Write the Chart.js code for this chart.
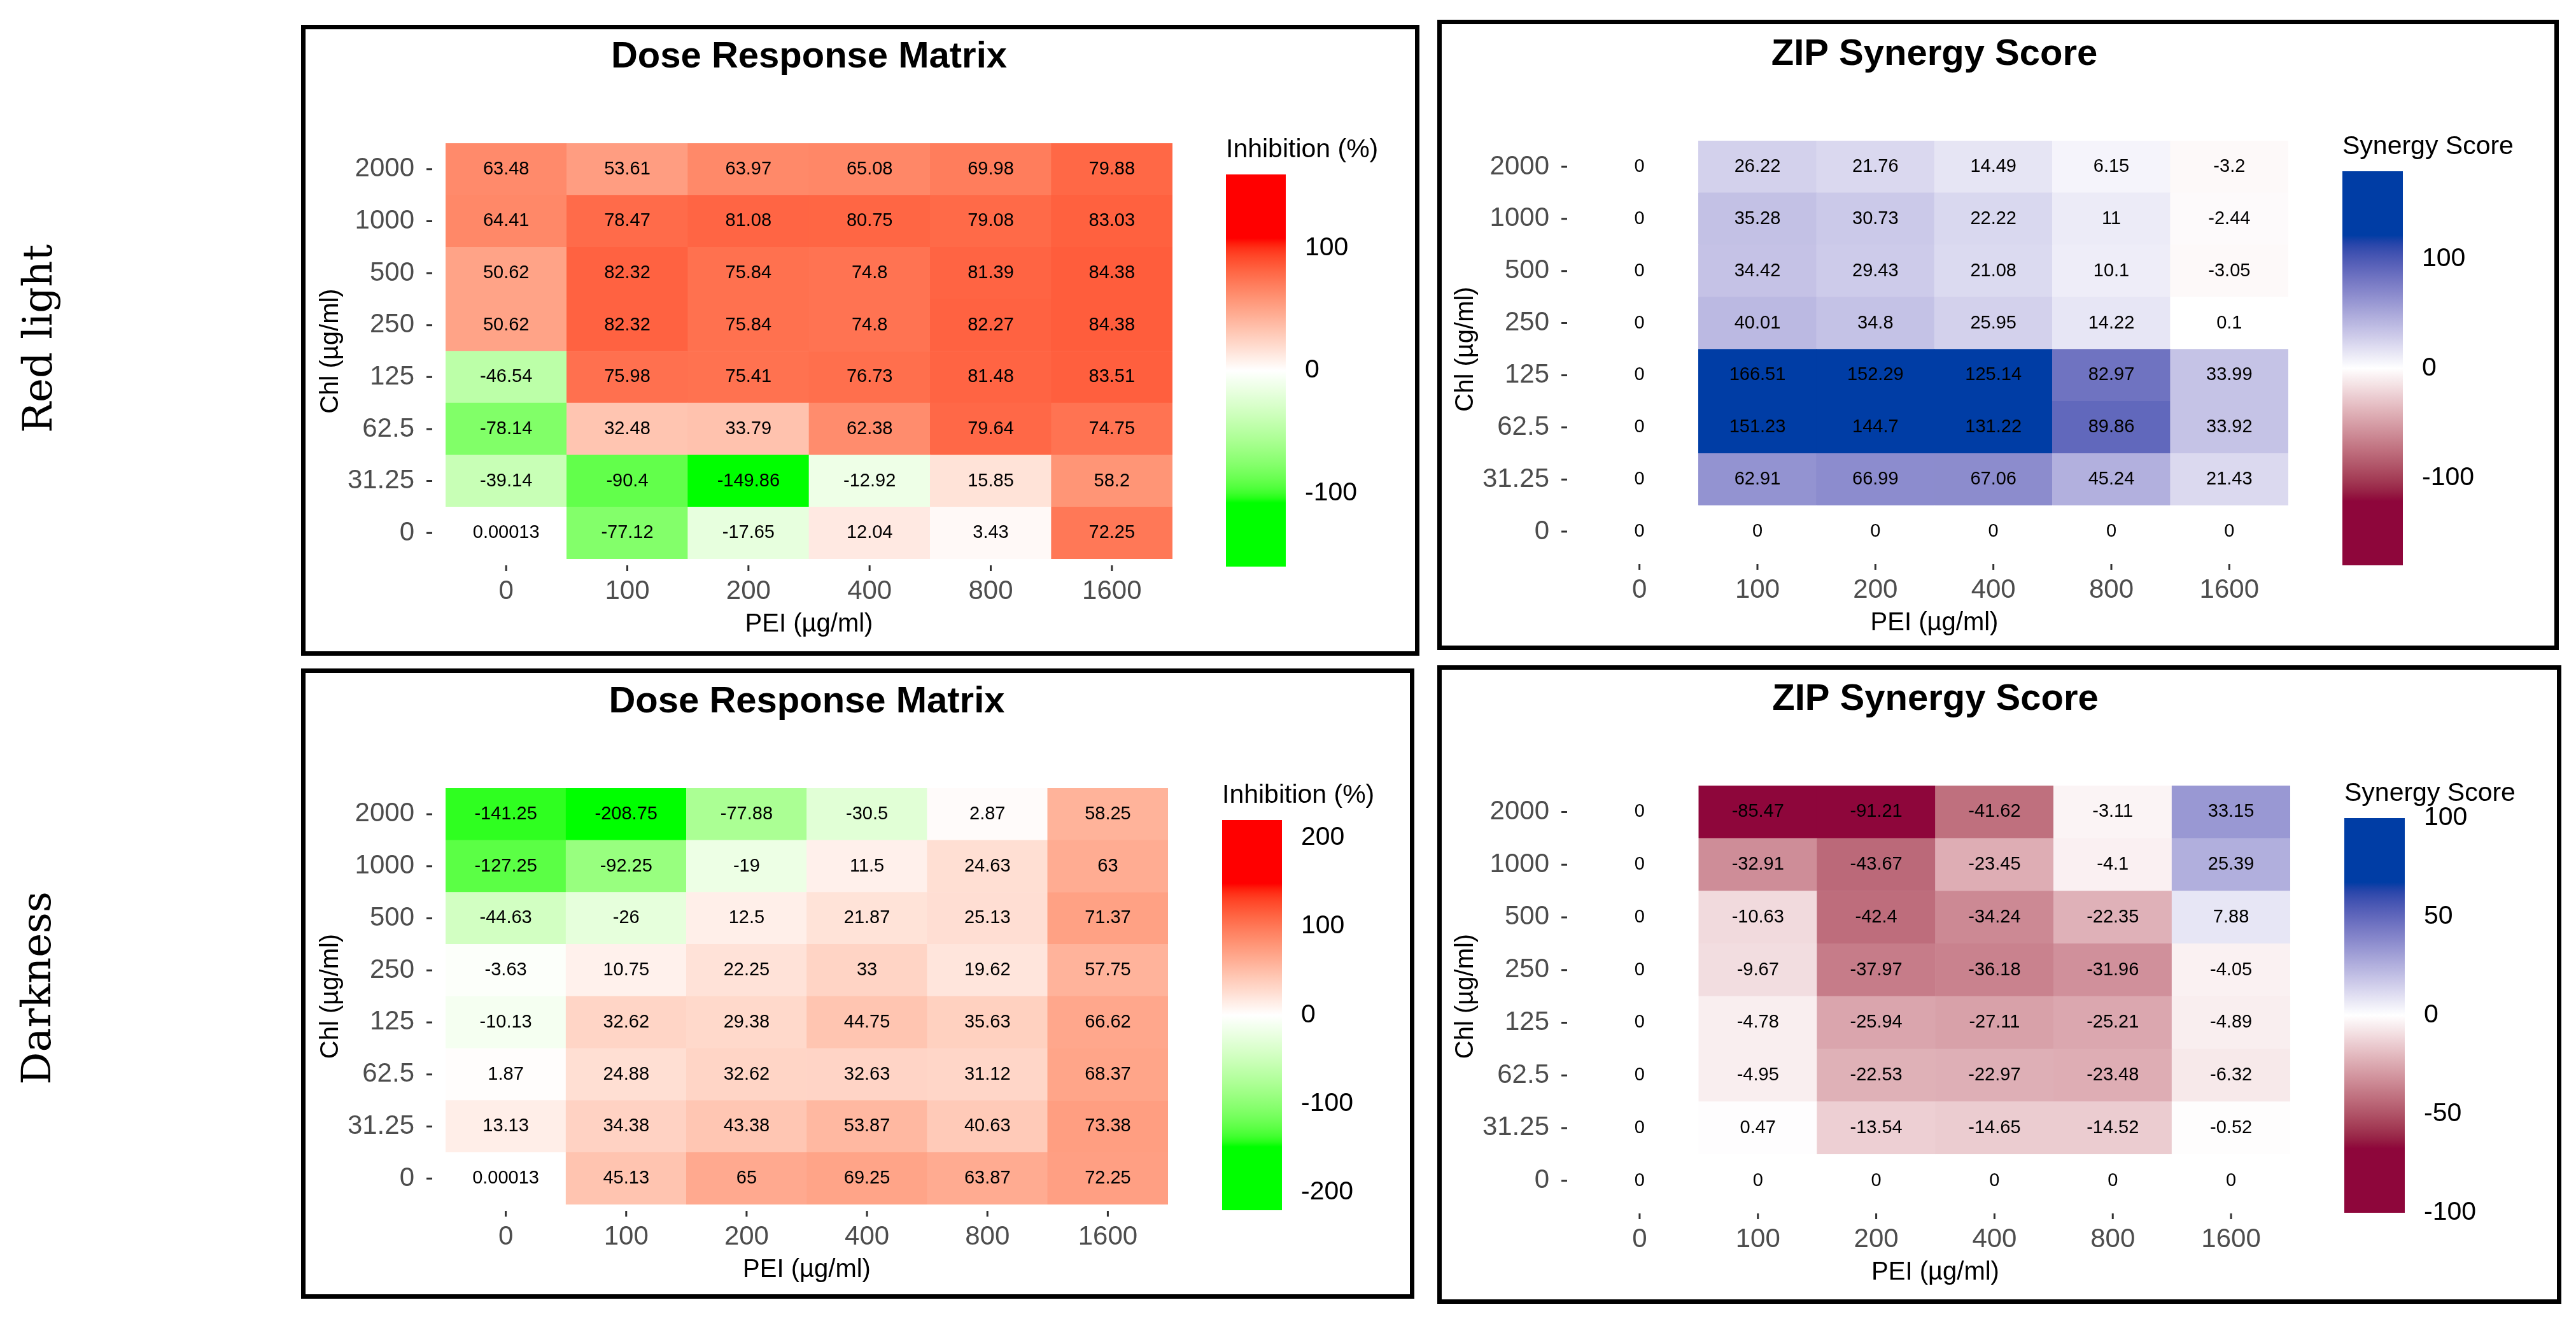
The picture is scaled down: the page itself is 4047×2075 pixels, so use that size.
<!DOCTYPE html>
<html>
<head>
<meta charset="utf-8">
<title>Dose response and ZIP synergy</title>
<script src="https://cdn.jsdelivr.net/npm/chart.js@4.4.1/dist/chart.umd.min.js"></script>
<style>
  body { margin: 0; width: 4047px; height: 2075px; background: #fff; position: relative; overflow: hidden; }
  .box { position: absolute; border: 7px solid #000; box-sizing: border-box; }
  .side { position: absolute; transform: translate(-50%, -50%) rotate(-90deg); font: 64px 'DejaVu Serif', serif; white-space: nowrap; color: #000; }
  canvas { position: absolute; }
</style>
</head>
<body>
<div class="side" style="left:59px; top:532px">Red light</div>
<div class="side" style="left:57px; top:1552px">Darkness</div>
<script>
// Categories (rows listed top to bottom, as in the picture)
const chlLevels = ['2000', '1000', '500', '250', '125', '62.5', '31.25', '0'];
const peiLevels = ['0', '100', '200', '400', '800', '1600'];

// Red light
const redInhibition = [
    [63.48, 53.61, 63.97, 65.08, 69.98, 79.88],
    [64.41, 78.47, 81.08, 80.75, 79.08, 83.03],
    [50.62, 82.32, 75.84, 74.8, 81.39, 84.38],
    [50.62, 82.32, 75.84, 74.8, 82.27, 84.38],
    [-46.54, 75.98, 75.41, 76.73, 81.48, 83.51],
    [-78.14, 32.48, 33.79, 62.38, 79.64, 74.75],
    [-39.14, -90.4, -149.86, -12.92, 15.85, 58.2],
    [0.00013, -77.12, -17.65, 12.04, 3.43, 72.25]
];
const redSynergy = [
    [0, 26.22, 21.76, 14.49, 6.15, -3.2],
    [0, 35.28, 30.73, 22.22, 11, -2.44],
    [0, 34.42, 29.43, 21.08, 10.1, -3.05],
    [0, 40.01, 34.8, 25.95, 14.22, 0.1],
    [0, 166.51, 152.29, 125.14, 82.97, 33.99],
    [0, 151.23, 144.7, 131.22, 89.86, 33.92],
    [0, 62.91, 66.99, 67.06, 45.24, 21.43],
    [0, 0, 0, 0, 0, 0]
];

// Darkness
const darkInhibition = [
    [-141.25, -208.75, -77.88, -30.5, 2.87, 58.25],
    [-127.25, -92.25, -19, 11.5, 24.63, 63],
    [-44.63, -26, 12.5, 21.87, 25.13, 71.37],
    [-3.63, 10.75, 22.25, 33, 19.62, 57.75],
    [-10.13, 32.62, 29.38, 44.75, 35.63, 66.62],
    [1.87, 24.88, 32.62, 32.63, 31.12, 68.37],
    [13.13, 34.38, 43.38, 53.87, 40.63, 73.38],
    [0.00013, 45.13, 65, 69.25, 63.87, 72.25]
];
const darkSynergy = [
    [0, -85.47, -91.21, -41.62, -3.11, 33.15],
    [0, -32.91, -43.67, -23.45, -4.1, 25.39],
    [0, -10.63, -42.4, -34.24, -22.35, 7.88],
    [0, -9.67, -37.97, -36.18, -31.96, -4.05],
    [0, -4.78, -25.94, -27.11, -25.21, -4.89],
    [0, -4.95, -22.53, -22.97, -23.48, -6.32],
    [0, 0.47, -13.54, -14.65, -14.52, -0.52],
    [0, 0, 0, 0, 0, 0]
];

// Colour bar tick labels
const redInhibitionTicks = [-100, 0, 100];
const redSynergyTicks = [-100, 0, 100];
const darkInhibitionTicks = [-200, -100, 0, 100, 200];
const darkSynergyTicks = [-100, -50, 0, 50, 100];

// Colour scales (white in the middle, interpolated in Lab like ggplot)
const doseColors = { low: '#00FF00', high: '#FF0000' };
const synergyColors = { low: '#8E063B', high: '#003DA5' };

// Layout, page pixels: [left, top, right, bottom]
const panels = [
    { box: [473, 39, 2230, 1030], grid: [700, 225, 1842, 878], bar: [1926, 274, 2020, 890],
      title: 'Dose Response Matrix', legendTitle: 'Inhibition (%)',
      values: redInhibition, ticks: redInhibitionTicks, limit: 160, colors: doseColors },
    { box: [2258, 31, 4020, 1021], grid: [2483, 221, 3595, 876], bar: [3680, 269, 3775, 888],
      title: 'ZIP Synergy Score', legendTitle: 'Synergy Score',
      values: redSynergy, ticks: redSynergyTicks, limit: 180, colors: synergyColors },
    { box: [473, 1050, 2222, 2040], grid: [700, 1238, 1835, 1892], bar: [1920, 1288, 2014, 1901],
      title: 'Dose Response Matrix', legendTitle: 'Inhibition (%)',
      values: darkInhibition, ticks: darkInhibitionTicks, limit: 220, colors: doseColors },
    { box: [2258, 1045, 4024, 2048], grid: [2483, 1234, 3598, 1896], bar: [3683, 1285, 3778, 1905],
      title: 'ZIP Synergy Score', legendTitle: 'Synergy Score',
      values: darkSynergy, ticks: darkSynergyTicks, limit: 100, colors: synergyColors }
];

Chart.defaults.font.family = "'Liberation Sans', Arial, sans-serif";
Chart.defaults.color = '#000';

// Lab colour helpers
function toLin(c) { c /= 255; return c <= 0.04045 ? c / 12.92 : Math.pow((c + 0.055) / 1.055, 2.4); }
function fromLin(c) {
    const v = c <= 0.0031308 ? 12.92 * c : 1.055 * Math.pow(c, 1 / 2.4) - 0.055;
    return Math.round(Math.min(1, Math.max(0, v)) * 255);
}
function hexToLab(hex) {
    const n = parseInt(hex.slice(1), 16);
    const r = toLin(n >> 16), g = toLin((n >> 8) & 255), b = toLin(n & 255);
    const f = t => t > 0.008856 ? Math.cbrt(t) : 7.787 * t + 16 / 116;
    const fx = f((0.4124 * r + 0.3576 * g + 0.1805 * b) / 0.95047);
    const fy = f(0.2126 * r + 0.7152 * g + 0.0722 * b);
    const fz = f((0.0193 * r + 0.1192 * g + 0.9505 * b) / 1.08883);
    return [116 * fy - 16, 500 * (fx - fy), 200 * (fy - fz)];
}
function labToCss([L, a, bb]) {
    const fy = (L + 16) / 116, fx = fy + a / 500, fz = fy - bb / 200;
    const inv = t => t > 0.206893 ? t * t * t : (t - 16 / 116) / 7.787;
    const x = inv(fx) * 0.95047, y = inv(fy), z = inv(fz) * 1.08883;
    const r = 3.2406 * x - 1.5372 * y - 0.4986 * z;
    const g = -0.9689 * x + 1.8758 * y + 0.0415 * z;
    const b = 0.0557 * x - 0.2040 * y + 1.0570 * z;
    return `rgb(${fromLin(r)}, ${fromLin(g)}, ${fromLin(b)})`;
}
const WHITE = hexToLab('#FFFFFF');
function colorFor(v, colors, sat) {
    const t = Math.max(-1, Math.min(1, v / sat));
    const end = hexToLab(t >= 0 ? colors.high : colors.low);
    const k = Math.abs(t);
    return labToCss(WHITE.map((w, i) => w + (end[i] - w) * k));
}

function addCanvas(left, top, width, height) {
    const c = document.createElement('canvas');
    c.width = width;
    c.height = height;
    c.style.left = left + 'px';
    c.style.top = top + 'px';
    c.style.width = width + 'px';
    c.style.height = height + 'px';
    document.body.appendChild(c);
    return c;
}

// Cell numbers
const cellLabels = {
    id: 'cellLabels',
    afterDatasetsDraw(chart) {
        const ctx = chart.ctx;
        ctx.save();
        ctx.font = "29px 'Liberation Sans', Arial, sans-serif";
        ctx.fillStyle = '#000';
        ctx.textAlign = 'center';
        ctx.textBaseline = 'middle';
        chart.data.datasets.forEach((ds, i) => {
            chart.getDatasetMeta(i).data.forEach((bar, j) => {
                ctx.fillText(String(ds.values[j]), bar.x, (bar.y + bar.base) / 2);
            });
        });
        ctx.restore();
    }
};

// Short axis ticks, set a little apart from the tiles
const tickMarks = {
    id: 'tickMarks',
    afterDraw(chart) {
        const { ctx, chartArea, scales } = chart;
        ctx.save();
        ctx.strokeStyle = '#333';
        ctx.lineWidth = 3;
        ctx.beginPath();
        scales.y.ticks.forEach((t, i) => {
            const y = scales.y.getPixelForTick(i);
            ctx.moveTo(chartArea.left - 30, y);
            ctx.lineTo(chartArea.left - 21, y);
        });
        scales.x.ticks.forEach((t, i) => {
            const x = scales.x.getPixelForTick(i);
            ctx.moveTo(x, chartArea.bottom + 10);
            ctx.lineTo(x, chartArea.bottom + 19);
        });
        ctx.stroke();
        ctx.restore();
    }
};

function drawHeatmap(p) {
    const [gx0, gy0, gx1, gy1] = p.grid;
    const sat = p.limit * 2 / 3;
    const rowsUp = p.values.slice().reverse();
    const chlUp = chlLevels.slice().reverse();
    const canvas = addCanvas(gx0 - 220, gy0 - 180, gx1 - gx0 + 220, gy1 - gy0 + 330);

    new Chart(canvas, {
        type: 'bar',
        data: {
            labels: peiLevels,
            datasets: rowsUp.map(row => ({
                data: row.map(() => 1),
                values: row,
                backgroundColor: row.map(v => colorFor(v, p.colors, sat)),
                borderWidth: 0,
                barPercentage: 1,
                categoryPercentage: 1
            }))
        },
        options: {
            responsive: false,
            animation: false,
            events: [],
            layout: { padding: 0 },
            plugins: {
                legend: { display: false },
                tooltip: { enabled: false },
                title: {
                    display: true,
                    text: p.title,
                    fullSize: false,
                    font: { size: 58, weight: 'bold' },
                    color: '#000',
                    padding: { top: 10, bottom: 100.4 }
                }
            },
            scales: {
                x: {
                    stacked: true,
                    grid: { display: false },
                    border: { display: false },
                    ticks: { font: { size: 42 }, color: '#4D4D4D', padding: 18, maxRotation: 0 },
                    title: { display: true, text: 'PEI (µg/ml)', font: { size: 40 }, color: '#000', padding: { top: 0, bottom: 23 } },
                    afterFit: s => { s.height = 150; s.paddingLeft = 0; s.paddingRight = 0; }
                },
                y: {
                    stacked: true,
                    min: 0,
                    max: chlUp.length,
                    grid: { display: false },
                    border: { display: false },
                    afterBuildTicks: s => { s.ticks = chlUp.map((c, i) => ({ value: i + 0.5 })); },
                    ticks: {
                        font: { size: 42 },
                        color: '#4D4D4D',
                        padding: 41,
                        autoSkip: false,
                        callback: value => chlUp[Math.floor(value)]
                    },
                    title: { display: true, text: 'Chl (µg/ml)', font: { size: 40 }, color: '#000', padding: { top: 16, bottom: 0 } },
                    afterFit: s => { s.width = 220; s.paddingTop = 0; s.paddingBottom = 0; }
                }
            }
        },
        plugins: [cellLabels, tickMarks]
    });
}

function drawColorbar(p) {
    const [bx0, by0, bx1, by1] = p.bar;
    const L = p.limit;
    const sat = L * 2 / 3;
    const canvas = addCanvas(bx0, by0 - 80, 300, by1 - by0 + 110);

    new Chart(canvas, {
        type: 'bar',
        data: {
            labels: [''],
            datasets: [{
                data: [[-L, L]],
                backgroundColor: c => {
                    const chart = c.chart;
                    if (!chart.chartArea) return '#fff';
                    const y = chart.scales.y;
                    const g = chart.ctx.createLinearGradient(0, y.getPixelForValue(L), 0, y.getPixelForValue(-L));
                    const steps = 80;
                    for (let k = 0; k <= steps; k++) {
                        g.addColorStop(k / steps, colorFor(L - 2 * L * k / steps, p.colors, sat));
                    }
                    return g;
                },
                borderWidth: 0,
                barPercentage: 1,
                categoryPercentage: 1
            }]
        },
        options: {
            responsive: false,
            animation: false,
            events: [],
            layout: { padding: 0 },
            plugins: {
                legend: { display: false },
                tooltip: { enabled: false },
                title: {
                    display: true,
                    text: p.legendTitle,
                    align: 'start',
                    font: { size: 41, weight: 'normal' },
                    color: '#000',
                    padding: { top: 17, bottom: 13.8 }
                }
            },
            scales: {
                x: { display: false },
                y: {
                    position: 'right',
                    min: -L,
                    max: L,
                    grid: { display: false },
                    border: { display: false },
                    afterBuildTicks: s => { s.ticks = p.ticks.map(v => ({ value: v })); },
                    ticks: { font: { size: 41 }, color: '#000', padding: 22 },
                    afterFit: s => { s.width = 300 - (bx1 - bx0); s.paddingTop = 0; s.paddingBottom = 30; }
                }
            }
        }
    });
}

panels.forEach(p => {
    const [l, t, r, b] = p.box;
    const box = document.createElement('div');
    box.className = 'box';
    box.style.left = l + 'px';
    box.style.top = t + 'px';
    box.style.width = (r - l) + 'px';
    box.style.height = (b - t) + 'px';
    document.body.appendChild(box);
    drawHeatmap(p);
    drawColorbar(p);
});
</script>
</body>
</html>
